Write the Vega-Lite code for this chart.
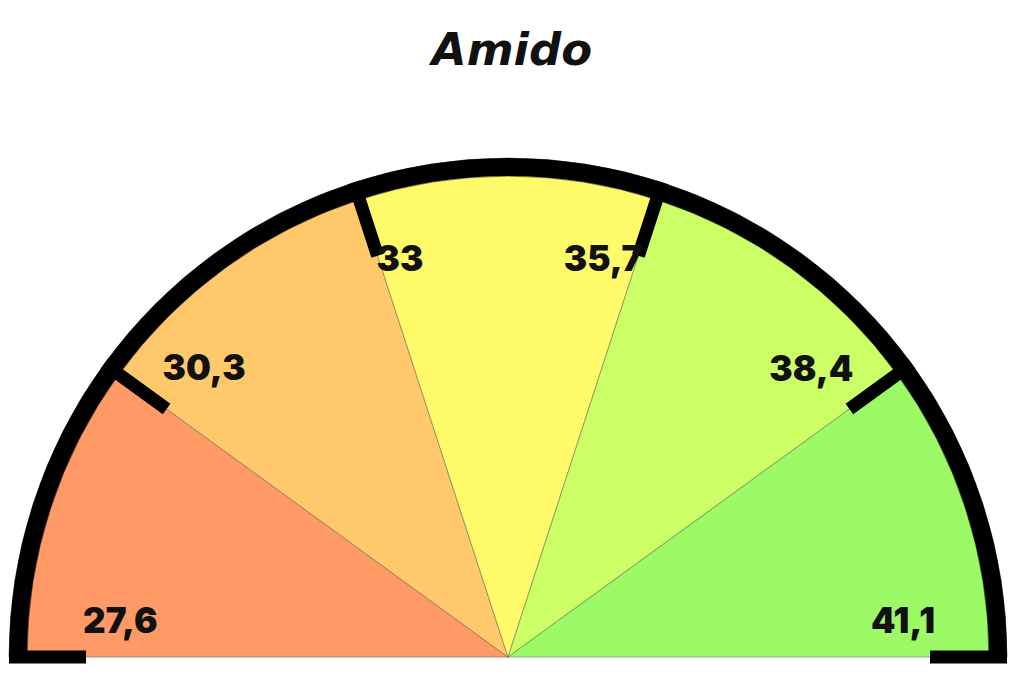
{
  "$schema": "https://vega.github.io/schema/vega-lite/v6.json",
  "description": "Amido gauge",
  "autosize": {"type": "fit", "contains": "padding"},
  "width": 1024,
  "height": 697,
  "padding": 0,
  "background": "white",
  "title": {
    "text": "Amido",
    "font": "DejaVu Sans",
    "fontSize": 45,
    "fontStyle": "italic",
    "fontWeight": "bold",
    "color": "#111111",
    "anchor": "middle",
    "baseline": "alphabetic",
    "offset": -110
  },
  "config": {"view": {"stroke": null}},
  "datasets": {
    "bands": [
      {"from": 27.6, "to": 30.3, "band": "1"},
      {"from": 30.3, "to": 33, "band": "2"},
      {"from": 33, "to": 35.7, "band": "3"},
      {"from": 35.7, "to": 38.4, "band": "4"},
      {"from": 38.4, "to": 41.1, "band": "5"}
    ],
    "ticks": [
      {"v": 27.6, "label": "27,6"},
      {"v": 30.3, "label": "30,3"},
      {"v": 33, "label": "33"},
      {"v": 35.7, "label": "35,7"},
      {"v": 38.4, "label": "38,4"},
      {"v": 41.1, "label": "41,1"}
    ]
  },
  "encoding": {
    "x": {"datum": 0, "type": "quantitative", "scale": {"domain": [-1.018, 1.034], "nice": false, "zero": false}, "axis": null},
    "y": {"datum": 0, "type": "quantitative", "scale": {"domain": [-0.08, 1.317], "nice": false, "zero": false}, "axis": null}
  },
  "layer": [
    {
      "data": {"name": "bands"},
      "mark": {"type": "arc", "radius": 482, "radius2": 0, "stroke": "#555555", "strokeWidth": 0.8, "strokeOpacity": 0.6},
      "encoding": {
        "theta": {"field": "from", "type": "quantitative", "scale": {"domain": [27.6, 41.1], "range": [-1.5708, 1.5708], "zero": false, "nice": false}},
        "theta2": {"field": "to"},
        "color": {
          "field": "band",
          "type": "nominal",
          "scale": {"domain": ["1", "2", "3", "4", "5"], "range": ["#FF9966", "#FFC96B", "#FFFA6A", "#CCFF66", "#9CFA66"]},
          "legend": null
        }
      }
    },
    {
      "data": {"name": "bands"},
      "mark": {"type": "arc", "radius": 499, "radius2": 481, "color": "black", "stroke": "black", "strokeWidth": 0.5},
      "encoding": {
        "theta": {"field": "from", "type": "quantitative"},
        "theta2": {"field": "to"}
      }
    },
    {
      "data": {"name": "ticks"},
      "mark": {"type": "arc", "radius": 499, "radius2": 422, "fill": null, "stroke": "black", "strokeWidth": 13, "strokeJoin": "bevel"},
      "encoding": {
        "theta": {"field": "v", "type": "quantitative"},
        "theta2": {"field": "v"}
      }
    },
    {
      "data": {"name": "ticks"},
      "transform": [{"filter": "datum.v == 27.6"}],
      "mark": {"type": "text", "radius": 422, "align": "left", "baseline": "middle", "dx": -3, "dy": -35, "font": "Inter", "fontSize": 35, "fontWeight": 900, "color": "#111111"},
      "encoding": {"theta": {"field": "v", "type": "quantitative"}, "text": {"field": "label"}}
    },
    {
      "data": {"name": "ticks"},
      "transform": [{"filter": "datum.v == 30.3"}],
      "mark": {"type": "text", "radius": 422, "align": "left", "baseline": "middle", "dx": -4, "dy": -40, "font": "Inter", "fontSize": 35, "fontWeight": 900, "color": "#111111"},
      "encoding": {"theta": {"field": "v", "type": "quantitative"}, "text": {"field": "label"}}
    },
    {
      "data": {"name": "ticks"},
      "transform": [{"filter": "datum.v == 33"}],
      "mark": {"type": "text", "radius": 422, "align": "left", "baseline": "middle", "dx": -1, "dy": 4, "font": "Inter", "fontSize": 35, "fontWeight": 900, "color": "#111111"},
      "encoding": {"theta": {"field": "v", "type": "quantitative"}, "text": {"field": "label"}}
    },
    {
      "data": {"name": "ticks"},
      "transform": [{"filter": "datum.v == 35.7"}],
      "mark": {"type": "text", "radius": 422, "align": "right", "baseline": "middle", "dx": 4, "dy": 4, "font": "Inter", "fontSize": 35, "fontWeight": 900, "color": "#111111"},
      "encoding": {"theta": {"field": "v", "type": "quantitative"}, "text": {"field": "label"}}
    },
    {
      "data": {"name": "ticks"},
      "transform": [{"filter": "datum.v == 38.4"}],
      "mark": {"type": "text", "radius": 422, "align": "right", "baseline": "middle", "dx": 4, "dy": -39, "font": "Inter", "fontSize": 35, "fontWeight": 900, "color": "#111111"},
      "encoding": {"theta": {"field": "v", "type": "quantitative"}, "text": {"field": "label"}}
    },
    {
      "data": {"name": "ticks"},
      "transform": [{"filter": "datum.v == 41.1"}],
      "mark": {"type": "text", "radius": 422, "align": "right", "baseline": "middle", "dx": 5, "dy": -35, "font": "Inter", "fontSize": 35, "fontWeight": 900, "color": "#111111"},
      "encoding": {"theta": {"field": "v", "type": "quantitative"}, "text": {"field": "label"}}
    }
  ]
}
